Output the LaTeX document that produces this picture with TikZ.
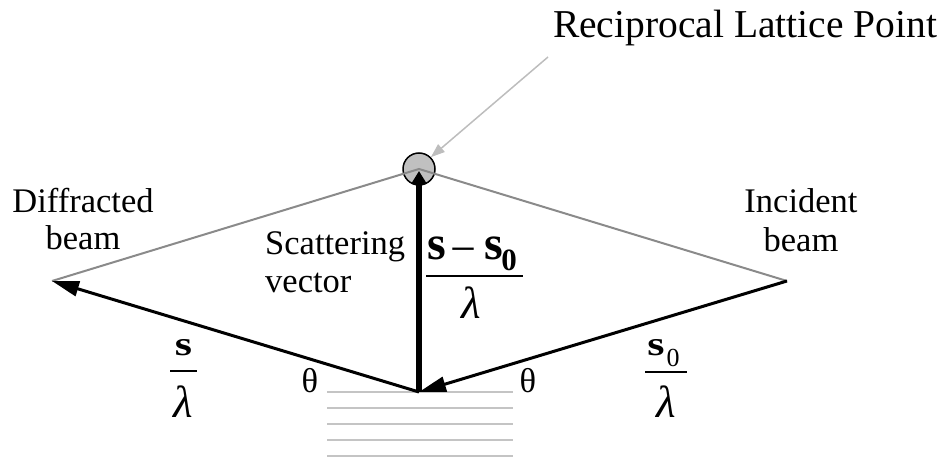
\documentclass[tikz,border=0pt]{standalone}
\usepackage{fontspec}
\setmainfont{Liberation Serif}
\usetikzlibrary{arrows.meta}
\definecolor{beamgray}{HTML}{8A8A8A}
\definecolor{planegray}{HTML}{C4C4C4}
\definecolor{pointgray}{HTML}{C0C0C0}
\definecolor{titlegray}{HTML}{BDBDBD}
\begin{document}
\begin{tikzpicture}[x=1pt,y=-1pt,
  lbl/.style={font=\fontsize{34.5}{37}\selectfont, inner sep=0pt, anchor=base},
  ttl/.style={font=\fontsize{39.5}{42}\selectfont, inner sep=0pt, anchor=base},
  sym/.style={inner sep=0pt, anchor=base},
  lam/.style={inner sep=0pt, anchor=base, font=\fontsize{45}{45}\selectfont\itshape},
  beamline/.style={beamgray, line width=2pt},
  vec/.style={black, line width=3pt, -{Triangle[length=27pt,width=15pt]}},
  bigvec/.style={black, line width=5.5pt, -{Triangle[length=13pt,width=15pt]}},
  plane/.style={planegray, line width=1.6pt},
  bar/.style={black, line width=1.6pt}]
\useasboundingbox (0,0) rectangle (951,457);

% key points
\coordinate (O) at (419,392);
\coordinate (A) at (419,169);
\coordinate (D) at (52,281);
\coordinate (I) at (787,281);
\coordinate (Tip) at (419,171);

% crystal planes
\foreach \yy in {392,408,424,440,456}
  \draw[plane] (327,\yy) -- (513,\yy);

% reciprocal lattice point
\node[circle, draw=black, line width=1.5pt, fill=pointgray, minimum size=32pt, inner sep=0pt] (P) at (A) {};

% beams (gray)
\draw[beamline] (D) -- (A) -- (I);

% vectors
\draw[vec] (O) -- (D);
\draw[vec] (I) -- (O);
\draw[bigvec] (O) -- (Tip);

% title and its arrow
\node[ttl] (title) at (745,38) {Reciprocal Lattice Point};
\coordinate (tstart) at (548,57);
\draw[titlegray, line width=1.5pt, -{Triangle[length=14pt,width=10pt]}] (tstart) -- (P.north east);

% labels
\node[lbl] (diff1) at (83,213) {Diffracted};
\node[lbl] (diff2) at (83,250) {beam};
\node[lbl] (inc1) at (801,213) {Incident};
\node[lbl] (inc2) at (801,252) {beam};
\node[lbl, anchor=base west] (scat1) at (265,255) {Scattering};
\node[lbl, anchor=base west] (scat2) at (265,292) {vector};
\node[lbl] (thL) at (310,392) {θ};
\node[lbl] (thR) at (528,392) {θ};

% left fraction s / lambda
\node[sym, font=\fontsize{34}{34}\selectfont\bfseries] (ls) at (183.5,355) {\scalebox{1.3}[1]{s}};
\draw[bar] (170,371) -- (197,371);
\node[lam] (ll) at (183.5,417) {λ};

% right fraction s0 / lambda
\node[sym, font=\fontsize{34}{34}\selectfont\bfseries] (rs) at (656,355) {\scalebox{1.3}[1]{s}};
\node[sym, font=\fontsize{26}{26}\selectfont] (r0) at (673,366) {0};
\draw[bar] (645,372) -- (687,372);
\node[lam] (rl) at (666,417) {λ};

% centre fraction (s - s0) / lambda
\node[sym, font=\fontsize{48}{48}\selectfont\bfseries] (cs1) at (436.5,260) {s};
\node[sym, font=\fontsize{46}{46}\selectfont] (cm) at (463.5,265) {−};
\node[sym, font=\fontsize{48}{48}\selectfont\bfseries] (cs2) at (493.5,260) {s};
\node[sym, font=\fontsize{31}{31}\selectfont\bfseries] (c0) at (509,271) {0};
\draw[black, line width=2pt] (426,276) -- (523,276);
\node[lam] (cl) at (471,319) {λ};
\end{tikzpicture}
\end{document}
